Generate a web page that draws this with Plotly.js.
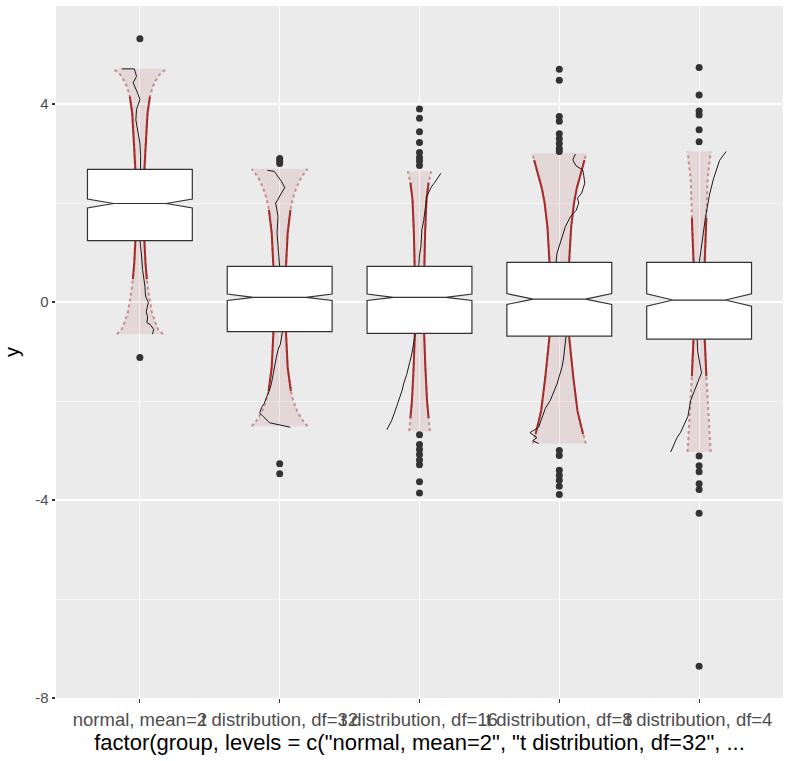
<!DOCTYPE html>
<html><head><meta charset="utf-8">
<script src="https://cdn.plot.ly/plotly-3.0.1.min.js"></script>
<style>html,body{margin:0;padding:0;background:#fff;} #chart{width:788px;height:761px;}</style>
</head><body><div id="chart"></div>
<script>
// ---- categories ----
const categories = ["normal, mean=2", "t distribution, df=32", "t distribution, df=16", "t distribution, df=8", "t distribution, df=4"];

// ---- notched box statistics ----
const boxQ1     = [1.24, -0.60, -0.635, -0.69, -0.75];
const boxMedian = [1.99, 0.095, 0.095, 0.06, 0.04];
const boxQ3     = [2.68, 0.72, 0.72, 0.80, 0.80];
const boxNotch  = [0.09, 0.065, 0.065, 0.11, 0.125];

// ---- outliers ----
const outliers1 = [5.32, -1.12];
const outliers2 = [2.90, 2.85, 2.80, -3.27, -3.47];
const outliers3 = [3.90, 3.71, 3.44, 3.22, 3.02, 2.92, 2.85, 2.76, -2.68, -2.88, -2.98, -3.08, -3.19, -3.29, -3.63, -3.86];
const outliers4 = [4.70, 4.48, 3.75, 3.65, 3.40, 3.30, 3.20, 3.10, 3.04, -3.00, -3.10, -3.40, -3.50, -3.60, -3.72, -3.89];
const outliers5 = [4.74, 4.18, 3.86, 3.78, 3.48, 3.24, -3.11, -3.31, -3.43, -3.67, -3.79, -4.27, -7.36];

// ---- envelope bands: y level and half width (category units) ----
const band1Y  = [-0.65, -0.55, -0.42, -0.22, 0.12, 0.46, 0.79, 1.25, 2.0, 2.67, 3.14, 3.48, 3.82, 4.15, 4.36, 4.56, 4.65, 4.71];
const band1HW = [0.165, 0.13, 0.112, 0.087, 0.066, 0.050, 0.040, 0.032, 0.028, 0.032, 0.040, 0.046, 0.055, 0.072, 0.094, 0.13, 0.16, 0.197];
const band2Y  = [-2.51, -2.41, -2.3, -2.2, -2.0, -1.8, -1.32, -0.61, 0.1, 0.71, 1.39, 1.86, 2.1, 2.27, 2.45, 2.54, 2.69];
const band2HW = [0.2, 0.17, 0.145, 0.125, 0.098, 0.08, 0.057, 0.045, 0.04, 0.045, 0.057, 0.077, 0.095, 0.115, 0.142, 0.16, 0.2];
const band3Y  = [-2.61, -2.34, -2.0, -1.32, -0.62, 0.1, 0.71, 1.39, 2.07, 2.41, 2.64];
const band3HW = [0.074, 0.065, 0.054, 0.042, 0.033, 0.03, 0.033, 0.04, 0.05, 0.065, 0.084];
const band4Y  = [-2.86, -2.67, -2.45, -2.2, -1.52, -0.69, 0.06, 0.80, 1.52, 2.0, 2.3, 2.53, 2.87, 3.01];
const band4HW = [0.19, 0.17, 0.15, 0.13, 0.1, 0.07, 0.062, 0.07, 0.085, 0.105, 0.125, 0.148, 0.18, 0.194];
const band5Y  = [-3.03, -2.3, -1.5, -0.75, 0.04, 0.82, 1.7, 2.5, 3.04];
const band5HW = [0.083, 0.066, 0.052, 0.04, 0.036, 0.04, 0.052, 0.061, 0.083];
// y range where the envelope edge is dense (solid)
const solid1 = [0.46, 4.15];
const solid2 = [-1.8, 1.86];
const solid3 = [-2.34, 2.41];
const solid4 = [-2.67, 2.87];
const solid5 = [-1.5, 1.7];

// ---- sorted-sample traces: offset (category units) and y ----
const line1X = [0.091, 0.098, 0.072, 0.050, 0.055, 0.045, 0.060, 0.040, 0.036, 0.025, 0.019, 0.012, 0.0, 0.003, 0.005, 0.005, 0.0, -0.019, -0.029, -0.024, 0.0, -0.012, -0.036, -0.048, -0.024, -0.036, -0.040, -0.131];
const line1Y = [-0.65, -0.55, -0.45, -0.42, -0.30, -0.20, -0.01, 0.12, 0.32, 0.50, 0.66, 0.93, 1.25, 2.0, 2.67, 2.94, 3.21, 3.48, 3.68, 3.89, 4.09, 4.19, 4.33, 4.43, 4.56, 4.65, 4.71, 4.71];
const line2X = [0.076, 0.03, -0.072, -0.119, -0.143, -0.131, -0.11, -0.095, -0.075, -0.06, -0.05, -0.043, -0.03, -0.024, -0.01, 0.005, 0.019, 0.0, 0.0, -0.01, -0.019, -0.012, -0.029, -0.01, 0.0, 0.036, 0.012, -0.024, -0.04, -0.088];
const line2Y = [-2.53, -2.50, -2.44, -2.31, -2.24, -2.14, -2.05, -1.93, -1.80, -1.66, -1.50, -1.39, -1.20, -1.12, -0.95, -0.85, -0.61, 0.10, 0.71, 1.20, 1.39, 1.73, 2.00, 2.08, 2.14, 2.31, 2.44, 2.58, 2.64, 2.66];
const line3X = [-0.234, -0.20, -0.174, -0.15, -0.126, -0.11, -0.091, -0.07, -0.055, -0.04, -0.031, -0.02, -0.007, 0.0, 0.01, 0.017, 0.03, 0.041, 0.053, 0.07, 0.088, 0.11, 0.129, 0.14, 0.153];
const line3Y = [-2.58, -2.40, -2.20, -2.00, -1.80, -1.62, -1.46, -1.22, -1.05, -0.80, -0.64, 0.10, 0.75, 0.95, 1.12, 1.46, 1.65, 1.86, 2.14, 2.24, 2.34, 2.42, 2.51, 2.55, 2.60];
const line4X = [-0.148, -0.19, -0.16, -0.21, -0.148, -0.124, -0.10, -0.065, -0.04, -0.017, 0.0, 0.019, 0.03, 0.038, 0.048, 0.01, -0.024, -0.017, 0.014, 0.043, 0.079, 0.12, 0.139, 0.13, 0.16, 0.182, 0.175, 0.167, 0.12, 0.096, 0.115];
const line4Y = [-2.86, -2.80, -2.74, -2.64, -2.53, -2.33, -2.15, -1.99, -1.82, -1.66, -1.50, -1.32, -1.15, -0.98, -0.69, 0.06, 0.80, 0.98, 1.25, 1.52, 1.72, 1.85, 2.00, 2.10, 2.20, 2.40, 2.55, 2.67, 2.75, 2.87, 2.99];
const line5X = [-0.203, -0.16, -0.132, -0.10, -0.08, -0.061, -0.045, -0.033, 0.017, 0.005, -0.01, -0.014, 0.0, 0.002, 0.02, 0.045, 0.075, 0.104, 0.146, 0.193];
const line5Y = [-3.03, -2.75, -2.63, -2.45, -2.31, -1.99, -1.85, -1.79, -1.43, -1.20, -1.00, -0.75, 0.04, 0.82, 1.22, 1.70, 2.18, 2.50, 2.86, 3.04];

// ---- assemble ----
const groups = [
  {bandY: band1Y, bandHW: band1HW, solid: solid1, lx: line1X, ly: line1Y, out: outliers1},
  {bandY: band2Y, bandHW: band2HW, solid: solid2, lx: line2X, ly: line2Y, out: outliers2},
  {bandY: band3Y, bandHW: band3HW, solid: solid3, lx: line3X, ly: line3Y, out: outliers3},
  {bandY: band4Y, bandHW: band4HW, solid: solid4, lx: line4X, ly: line4Y, out: outliers4},
  {bandY: band5Y, bandHW: band5HW, solid: solid5, lx: line5X, ly: line5Y, out: outliers5}
];

const bandFill = 'rgba(165,42,42,0.10)';
const redSolid = '#a52a2a';
const redDot = 'rgba(165,42,42,0.45)';
const traces = [];

groups.forEach((g, i) => {
  const c = i + 1;
  const yRev = g.bandY.slice().reverse();
  const hwRev = g.bandHW.slice().reverse();
  traces.push({type: 'scatter', mode: 'lines', x: g.bandHW.map(h => c - h).concat(hwRev.map(h => c + h)),
    y: g.bandY.concat(yRev), fill: 'toself', fillcolor: bandFill, line: {width: 0}, hoverinfo: 'skip', showlegend: false});
  [-1, 1].forEach(s => {
    traces.push({type: 'scatter', mode: 'lines', x: g.bandHW.map(h => c + s * h), y: g.bandY,
      line: {color: redDot, width: 2, dash: 'dot'}, hoverinfo: 'skip', showlegend: false});
    const idx = g.bandY.map((v, k) => k).filter(k => g.bandY[k] >= g.solid[0] && g.bandY[k] <= g.solid[1]);
    traces.push({type: 'scatter', mode: 'lines', x: idx.map(k => c + s * g.bandHW[k]), y: idx.map(k => g.bandY[k]),
      line: {color: redSolid, width: 2}, hoverinfo: 'skip', showlegend: false});
  });
  traces.push({type: 'scatter', mode: 'lines', x: g.lx.map(v => c + v), y: g.ly,
    line: {color: '#1a1a1a', width: 1}, hoverinfo: 'skip', showlegend: false});
});

// boxes on overlay axes (drawn above)
traces.push({type: 'box', xaxis: 'x2', yaxis: 'y2', x: [1, 2, 3, 4, 5],
  q1: boxQ1, median: boxMedian, q3: boxQ3, lowerfence: boxQ1, upperfence: boxQ3,
  notchspan: boxNotch, notched: true, notchwidth: 0.25, width: 0.75, whiskerwidth: 0,
  fillcolor: '#ffffff', line: {color: '#333333', width: 1.2}, boxpoints: false,
  hoverinfo: 'skip', showlegend: false});

// outliers
const outX = [], outY = [];
groups.forEach((g, i) => g.out.forEach(v => { outX.push(i + 1); outY.push(v); }));
traces.push({type: 'scatter', mode: 'markers', xaxis: 'x2', yaxis: 'y2', x: outX, y: outY,
  marker: {color: '#333333', size: 7}, hoverinfo: 'skip', showlegend: false});

const font = 'Liberation Sans, Arial, sans-serif';
const xr = [0.4, 5.6], yr = [-8.0, 5.98];
const layout = {
  width: 788, height: 761,
  margin: {l: 56, r: 5, t: 6, b: 63},
  paper_bgcolor: '#ffffff', plot_bgcolor: '#ebebeb',
  showlegend: false,
  font: {family: font, color: '#4d4d4d'},
  xaxis: {range: xr, tickmode: 'array', tickvals: [1, 2, 3, 4, 5], ticktext: categories, tickangle: 0,
    showgrid: true, gridcolor: '#ffffff', gridwidth: 1.1, zeroline: false, showline: false,
    ticks: 'outside', ticklen: 3.5, tickwidth: 1.1, tickcolor: '#333333', ticklabelstandoff: 1,
    tickfont: {family: font, size: 18.5, color: '#4d4d4d'},
    title: {text: 'factor(group, levels = c("normal, mean=2", "t distribution, df=32", ...', font: {family: font, size: 22, color: '#000000'}, standoff: 1},
    fixedrange: true},
  yaxis: {range: yr, tickmode: 'array', tickvals: [-8, -4, 0, 4], ticktext: ['-8', '-4', '0', '4'],
    showgrid: true, gridcolor: '#ffffff', gridwidth: 1.1, zeroline: false, showline: false,
    ticks: 'outside', ticklen: 3.5, tickwidth: 1.1, tickcolor: '#333333',
    tickfont: {family: font, size: 15, color: '#4d4d4d'},
    minor: {tickmode: 'array', tickvals: [-6, -2, 2], showgrid: true, gridcolor: '#ffffff', gridwidth: 0.55, ticks: ''},
    title: {text: 'y', font: {family: font, size: 20, color: '#000000'}, standoff: 10},
    fixedrange: true},
  xaxis2: {range: xr, overlaying: 'x', visible: false, fixedrange: true},
  yaxis2: {range: yr, overlaying: 'y', visible: false, fixedrange: true}
};

Plotly.newPlot('chart', traces, layout, {displayModeBar: false, staticPlot: true});
</script>
</body></html>
